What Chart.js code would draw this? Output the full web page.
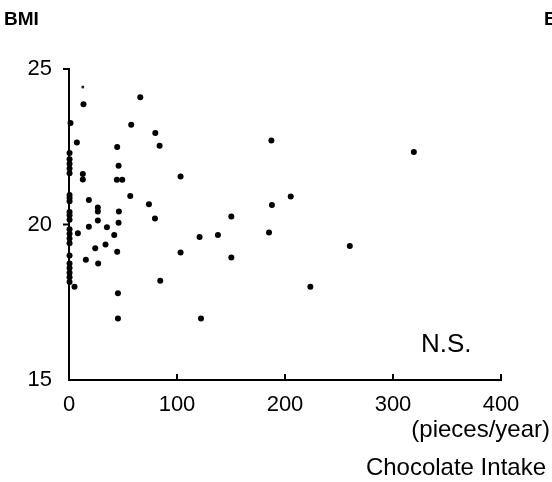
<!DOCTYPE html>
<html>
<head>
<meta charset="utf-8">
<script src="https://cdn.jsdelivr.net/npm/chart.js@4/dist/chart.umd.min.js"></script>
<style>
  html, body { margin:0; padding:0; background:#fff; }
  canvas { display:block; }
</style>
</head>
<body>
<canvas id="c" width="552" height="482"></canvas>
<script>
// ===== data =====
const chocolate = [
  13.4, 66.0, 1.4, 57.6, 7.3, 79.9, 83.9, 44.6, 45.9, 187.4, 319.3, 103.3,
  12.8, 12.8, 44.3, 49.3, 56.7, 205.3, 18.4, 74.0, 187.9, 26.7, 26.7, 46.2,
  150.3, 26.7, 79.6, 45.9, 18.4, 35.1, 8.2, 41.9, 120.9, 137.9, 185.2, 33.8,
  24.3, 44.6, 103.3, 150.3, 260.0, 15.6, 27.0, 84.5, 5.1, 223.5, 45.3, 45.3, 122.2,
  // subjects piled on the axis (almost no chocolate)
  0.5, 0.5, 0.5, 0.5, 0.5, 0.5, 0.5, 0.5, 0.5, 0.5, 0.5,
  0.5, 0.5, 0.5, 0.5, 0.5, 0.5, 0.5, 0.5, 0.5, 0.5
];
const bmi = [
  23.87, 24.09, 23.26, 23.21, 22.64, 22.94, 22.53, 22.49, 21.89, 22.70, 22.33, 21.54,
  21.62, 21.45, 21.44, 21.44, 20.92, 20.90, 20.79, 20.65, 20.63, 20.55, 20.42, 20.42,
  20.26, 20.13, 20.19, 20.06, 19.93, 19.91, 19.72, 19.66, 19.60, 19.66, 19.74, 19.36,
  19.24, 19.12, 19.10, 18.94, 19.31, 18.87, 18.75, 18.19, 18.00, 18.00, 17.79, 16.98, 16.98,
  22.30, 22.10, 21.95, 21.80, 21.65, 20.95, 20.85, 20.75, 20.40, 20.30, 20.15,
  19.85, 19.70, 19.55, 19.40, 19.00, 18.75, 18.60, 18.45, 18.30, 18.15
];
// one faint, half-printed dot near the top
const faintChocolate = [12.8];
const faintBmi = [24.42];

const xTicks = [0, 100, 200, 300, 400];
const yTicks = [15, 20, 25];

const FONT = '"Liberation Sans", Arial, Helvetica, sans-serif';

// ===== extra drawing: tick marks + free labels =====
const decor = {
  id: 'decor',
  afterDraw(chart){
    const ctx = chart.ctx, xs = chart.scales.x, ys = chart.scales.y;
    const a = chart.chartArea;
    ctx.save();
    ctx.strokeStyle = '#000';
    ctx.lineWidth = 2;
    // x ticks point up into the plot
    xTicks.slice(1).forEach(v => {
      const px = xs.getPixelForValue(v);
      ctx.beginPath(); ctx.moveTo(px, a.bottom); ctx.lineTo(px, a.bottom - 6); ctx.stroke();
    });
    // y ticks stick out to the left
    yTicks.slice(1).forEach(v => {
      const py = ys.getPixelForValue(v);
      ctx.beginPath(); ctx.moveTo(a.left, py); ctx.lineTo(a.left - 6, py); ctx.stroke();
    });

    ctx.fillStyle = '#000';
    ctx.textBaseline = 'alphabetic';
    ctx.textAlign = 'left';
    ctx.font = 'bold 19px ' + FONT;
    ctx.fillText('BMI', 4, 25);
    ctx.fillText('B', 544, 25);

    ctx.font = '26px ' + FONT;
    ctx.fillText('N.S.', 421, 352);

    ctx.textAlign = 'right';
    ctx.font = '24px ' + FONT;
    ctx.fillText('(pieces/year)', 550, 437);
    ctx.fillText('Chocolate Intake', 546, 475);
    ctx.restore();
  }
};

new Chart(document.getElementById('c'), {
  type: 'scatter',
  data: {
    datasets: [
      {
        label: 'BMI vs chocolate',
        data: chocolate.map((x, i) => ({ x, y: bmi[i] })),
        backgroundColor: '#000',
        borderWidth: 0,
        pointRadius: 3,
        clip: false
      },
      {
        label: 'faint',
        data: faintChocolate.map((x, i) => ({ x, y: faintBmi[i] })),
        backgroundColor: '#222',
        borderWidth: 0,
        pointRadius: 1.5,
        clip: false
      }
    ]
  },
  options: {
    responsive: false,
    animation: false,
    devicePixelRatio: 1,
    layout: { padding: { top: 69, right: 51, bottom: 0, left: 0 } },
    plugins: { legend: { display: false }, tooltip: { enabled: false } },
    scales: {
      x: {
        type: 'linear', min: 0, max: 400,
        afterFit(s){ s.height = 102; },
        afterBuildTicks(s){ s.ticks = xTicks.map(v => ({ value: v })); },
        grid: { display: false, drawTicks: false },
        border: { display: true, color: '#000', width: 2 },
        ticks: { color: '#000', padding: 12, maxRotation: 0, font: { family: FONT, size: 22 } }
      },
      y: {
        type: 'linear', min: 15, max: 25,
        afterFit(s){ s.width = 69; },
        afterBuildTicks(s){ s.ticks = yTicks.map(v => ({ value: v })); },
        grid: { display: false, drawTicks: false },
        border: { display: true, color: '#000', width: 2 },
        ticks: { color: '#000', padding: 17, font: { family: FONT, size: 22 } }
      }
    }
  },
  plugins: [decor]
});
</script>
</body>
</html>
